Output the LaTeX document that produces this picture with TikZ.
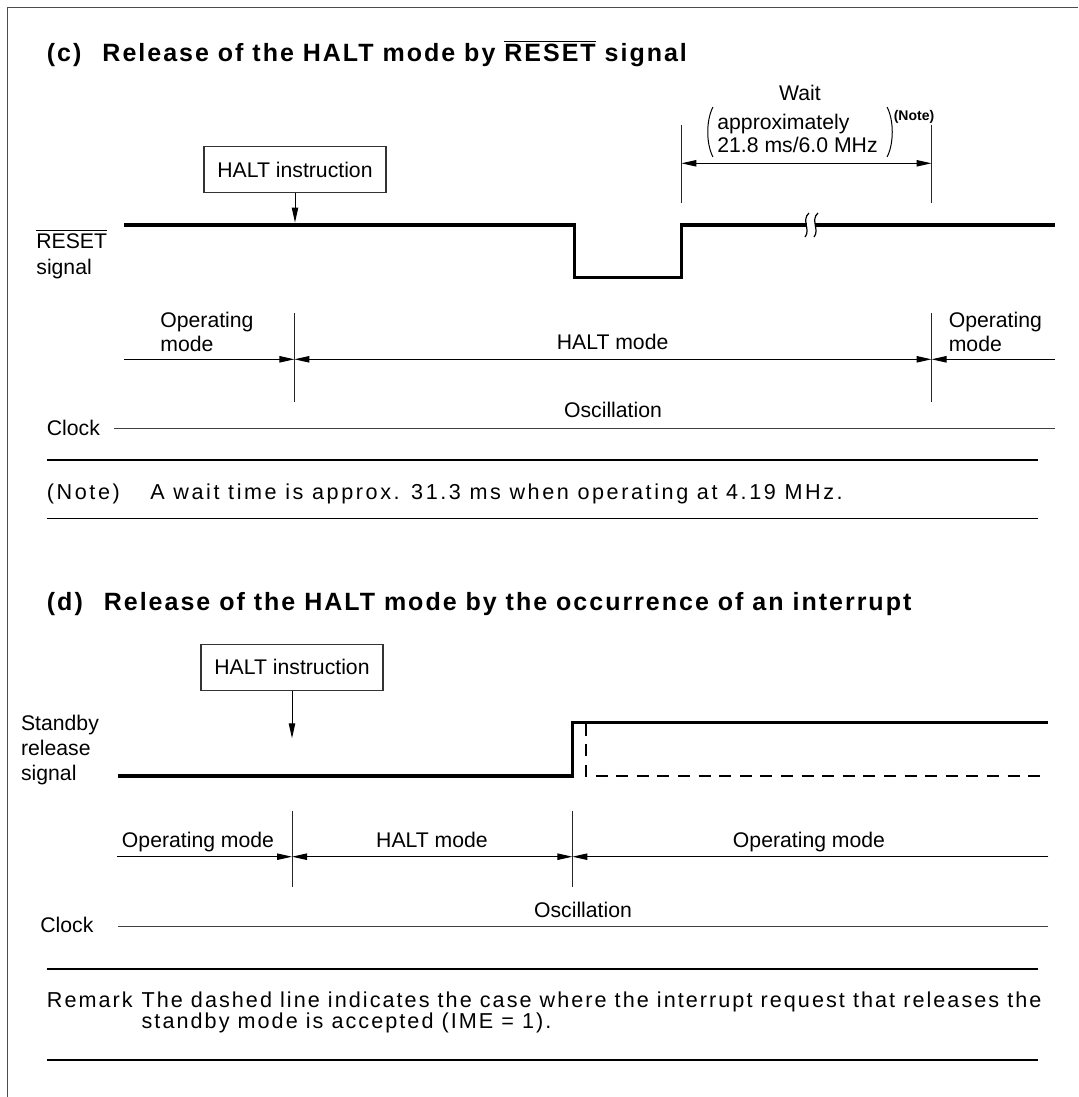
\documentclass[tikz,border=0pt]{standalone}
\usepackage{fontspec}
\setmainfont{Liberation Sans}
\newfontfamily\headfont[LetterSpace=8]{Liberation Sans}
\newfontfamily\notefont[LetterSpace=12]{Liberation Sans}
\newfontfamily\remfont[LetterSpace=9.5]{Liberation Sans}
\usetikzlibrary{arrows.meta}
\newcommand{\ovl}[1]{\ensuremath{\overline{\mbox{#1}}}}
\tikzset{
  lbl/.style = {inner sep=0pt, font=\fontsize{10.6}{11.7}\selectfont},% libelles du chronogramme
  head/.style = {inner sep=0pt, anchor=base west,
    font=\headfont\bfseries\fontsize{12.5}{14}\selectfont},% titre (c), (d)
  notetxt/.style = {inner sep=0pt, font=\notefont\fontsize{10.8}{10.5}\selectfont},% note
  remtxt/.style = {inner sep=0pt, font=\remfont\fontsize{10.8}{10.5}\selectfont},% remarque
  instr/.style = {lbl, draw=black!80, line width=0.6pt,
    minimum width=91pt, minimum height=23pt},% boite HALT instruction
  signal/.style = {line width=1.75pt},% signal epais
  dashsig/.style = {line width=1pt, dash pattern=on 6pt off 4.3pt},% cas IME = 1
  tick/.style = {line width=0.5pt, black!85},% reperes verticaux
  span/.style = {line width=0.5pt, -{Triangle[length=7.5pt,width=3.2pt]}},
  span2/.style = {line width=0.5pt,
    {Triangle[length=7.5pt,width=3.2pt]}-{Triangle[length=7.5pt,width=3.2pt]}},
  sep/.style = {line width=0.55pt},% filets de la note
  clockline/.style = {line width=0.6pt, black!75},% horloge
  frame/.style = {line width=0.7pt, black!70}
}
\begin{document}
\begin{tikzpicture}[x=0.5pt, y=-0.5pt]
  \useasboundingbox (0,0) rectangle (1078,1097);
  \draw[frame] (7.6,1097) -- (7.6,7.3) -- (1078,7.3);

  % ---- (c) liberation par RESET
  \node[head] (titc) at (46.5,62) {(c)\hspace{10.5pt}Release of the HALT mode by \ovl{RESET} signal};
  \node[instr] (haltc) at (295,169.7) {HALT instruction};
  \coordinate (arrc) at (295,222.5);
  \draw[span] (haltc.south) -- (arrc);

  \node[lbl, align=left, anchor=west, font=\fontsize{10.6}{13}\selectfont] (rstc) at (36,254) {\ovl{RESET}\\signal};
  \coordinate (c0) at (124,225);
  \coordinate (c1) at (574.3,225);
  \coordinate (c2) at (574.3,277.3);
  \coordinate (c3) at (681.4,277.3);
  \coordinate (c4) at (681.4,225);
  \coordinate (c5) at (1054.8,225);
  \draw[signal] (c0) -- (c1) -- (c2) -- (c3) -- (c4) -- (c5);
  % coupure
  \fill[white] (807,216) rectangle (815,234);
  \draw[line width=0.6pt] (809,213) .. controls (801,220) and (811,230) .. (805,237);
  \draw[line width=0.6pt] (818,213) .. controls (810,220) and (820,230) .. (814,237);

  % attente
  \coordinate (w1t) at (681.4,125);
  \coordinate (w1b) at (681.4,203);
  \coordinate (w2t) at (931.5,125);
  \coordinate (w2b) at (931.5,203);
  \draw[tick] (w1t) -- (w1b);
  \draw[tick] (w2t) -- (w2b);
  \coordinate (wa) at (681.4,163.3);
  \coordinate (wb) at (931.5,163.3);
  \draw[span2] (wa) -- (wb);
  \node[lbl] (wait) at (800,93) {Wait};
  \node[lbl, anchor=base west] (approx) at (717,129.2) {approximately};
  \node[lbl, anchor=base west] (freq) at (717,152.5) {21.8 ms/6.0 MHz};
  \draw[line width=0.5pt] (713,107) .. controls (706,120) and (706,144) .. (713,157);
  \draw[line width=0.5pt] (887,107) .. controls (894,120) and (894,144) .. (887,157);
  \node[inner sep=0pt, font=\bfseries\fontsize{7}{8}\selectfont] (notec) at (914,116.7) {(Note)};

  % modes
  \coordinate (t1a) at (294.4,313.3);
  \coordinate (t1b) at (294.4,401.7);
  \coordinate (t2a) at (931.5,313.3);
  \coordinate (t2b) at (931.5,401.7);
  \draw[tick] (t1a) -- (t1b);
  \draw[tick] (t2a) -- (t2b);
  \coordinate (m0) at (124,359.3);
  \coordinate (m1) at (294.4,359.3);
  \coordinate (m2) at (931.5,359.3);
  \coordinate (m3) at (1054.8,359.3);
  \draw[span] (m0) -- (m1);
  \draw[span2] (m1) -- (m2);
  \draw[span] (m3) -- (m2);
  \node[lbl, align=left, anchor=west] (opc1) at (160,332) {Operating\\mode};
  \node[lbl, anchor=base] (haltmc) at (612.6,349.2) {HALT mode};
  \node[lbl, align=left, anchor=west] (opc2) at (948.4,332) {Operating\\mode};
  \node[lbl, anchor=base] (oscc) at (613,417.5) {Oscillation};
  \node[lbl, anchor=base west] (clkc) at (46.5,435.8) {Clock};
  \coordinate (k0) at (114,428.3);
  \coordinate (k1) at (1054.8,428.3);
  \draw[clockline] (k0) -- (k1);

  \draw[sep] (46.5,460) -- (1037.6,460);
  \node[notetxt, anchor=base west] (nlab) at (46.5,499.2) {(Note)};
  \node[notetxt, anchor=base west] (ntxt) at (150,499.2) {A wait time is approx. 31.3 ms when operating at 4.19 MHz.};
  \draw[sep] (46.5,518.3) -- (1037.6,518.3);

  % ---- (d) liberation par interruption
  \node[head] (titd) at (46.5,610.5) {(d)\hspace{10.5pt}Release of the HALT mode by the occurrence of an interrupt};
  \node[instr] (haltd) at (292,667.2) {HALT instruction};
  \coordinate (arrd) at (292,738.3);
  \draw[span] (haltd.south) -- (arrd);

  \node[lbl, align=left, anchor=west, font=\fontsize{10.6}{12.5}\selectfont] (stby) at (20.7,750.3) {Standby\\release\\signal};
  \coordinate (d0) at (117.8,776);
  \coordinate (d1) at (572.4,776);
  \coordinate (d2) at (572.4,722.3);
  \coordinate (d3) at (1047.9,722.3);
  \draw[signal] (d0) -- (d1) -- (d2) -- (d3);
  \coordinate (e0) at (586.3,723.5);
  \coordinate (e1) at (586.3,776);
  \coordinate (e2) at (1047.9,776);
  \draw[dashsig] (e0) -- (e1) -- (e2);

  \coordinate (u1a) at (292,810.7);
  \coordinate (u1b) at (292,886.7);
  \coordinate (u2a) at (572.4,810.7);
  \coordinate (u2b) at (572.4,886.7);
  \draw[tick] (u1a) -- (u1b);
  \draw[tick] (u2a) -- (u2b);
  \coordinate (n0) at (117.3,856.7);
  \coordinate (n1) at (292,856.7);
  \coordinate (n2) at (572.4,856.7);
  \coordinate (n3) at (1048.3,856.7);
  \draw[span] (n0) -- (n1);
  \draw[span2] (n1) -- (n2);
  \draw[span] (n3) -- (n2);
  \node[lbl, anchor=base] (opd1) at (198,847.5) {Operating mode};
  \node[lbl, anchor=base] (haltmd) at (432,847.5) {HALT mode};
  \node[lbl, anchor=base] (opd2) at (809,847.5) {Operating mode};
  \node[lbl, anchor=base] (oscd) at (583,917.5) {Oscillation};
  \node[lbl, anchor=base west] (clkd) at (40,932.5) {Clock};
  \coordinate (q0) at (118,926.7);
  \coordinate (q1) at (1048,926.7);
  \draw[clockline] (q0) -- (q1);

  \draw[sep] (46.5,969) -- (1037.6,969);
  \node[remtxt, anchor=base west] (rlab) at (46.5,1007.5) {Remark};
  \node[remtxt, align=left, anchor=west] (rtxt) at (141.2,1012) {The dashed line indicates the case where the interrupt request that releases the\\standby mode is accepted (IME = 1).};
  \draw[sep] (46.5,1060) -- (1037.6,1060);
\end{tikzpicture}
\end{document}
